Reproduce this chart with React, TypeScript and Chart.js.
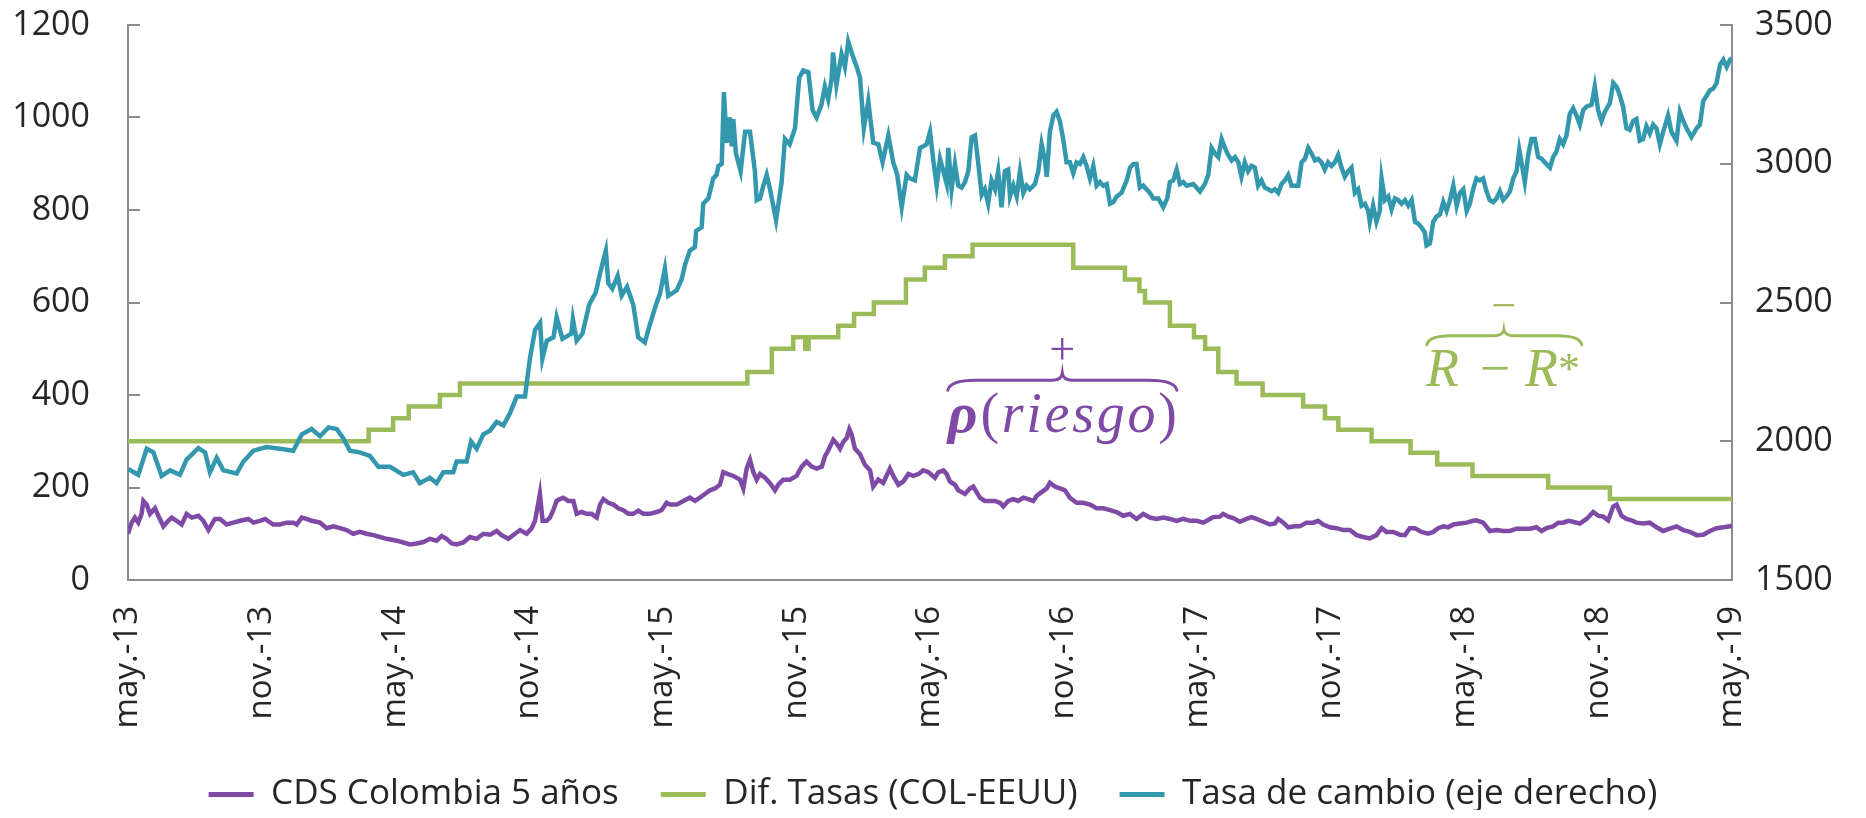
import React, { useEffect, useRef } from 'react';
import { Chart, registerables } from 'chart.js';

Chart.register(...registerables);

// Etiquetas del eje X (cada 6 meses desde may.-13)
const etiquetasX = ['may.-13', 'nov.-13', 'may.-14', 'nov.-14', 'may.-15', 'nov.-15', 'may.-16', 'nov.-16', 'may.-17', 'nov.-17', 'may.-18', 'nov.-18', 'may.-19'];

// Series: [meses desde may.-13, valor]
const cdsSerie: [number, number][] = [
  [0, 100], [0.16, 124], [0.31, 135], [0.46, 124], [0.61, 143], [0.69, 171], [0.84, 163], [0.99, 143], [1.21, 155], [1.36, 139],
  [1.59, 116], [1.81, 128], [1.96, 135], [2.18, 128], [2.41, 120], [2.63, 143], [2.86, 135], [3.16, 139], [3.38, 128], [3.61, 108],
  [3.9, 132], [4.13, 132], [4.43, 120], [4.73, 124], [5.03, 128], [5.4, 132], [5.63, 124], [5.92, 128], [6.15, 132], [6.52, 120],
  [6.82, 120], [7.12, 124], [7.42, 124], [7.57, 120], [7.8, 135], [8.02, 132], [8.24, 128], [8.62, 124], [8.92, 112], [9.22, 116],
  [9.52, 112], [9.81, 108], [10.11, 100], [10.41, 104], [10.71, 100], [11.01, 97], [11.31, 93], [11.61, 89], [12.06, 85], [12.36, 81],
  [12.66, 77], [12.96, 79], [13.26, 82], [13.55, 89], [13.85, 85], [14.08, 95], [14.3, 89], [14.53, 79], [14.75, 77], [15.05, 81],
  [15.35, 93], [15.65, 89], [15.95, 100], [16.25, 98], [16.55, 106], [16.77, 97], [17.07, 89], [17.37, 100], [17.6, 108], [17.89, 100],
  [18.12, 112], [18.27, 128], [18.42, 167], [18.49, 186], [18.61, 128], [18.79, 128], [18.94, 135], [19.09, 151], [19.24, 171], [19.39, 175],
  [19.54, 178], [19.76, 171], [19.99, 171], [20.14, 143], [20.36, 147], [20.59, 143], [20.81, 143], [21.04, 135], [21.19, 163], [21.34, 175],
  [21.56, 167], [21.79, 163], [22.01, 155], [22.23, 151], [22.46, 143], [22.68, 143], [22.91, 150], [23.13, 143], [23.43, 143], [23.73, 147],
  [23.95, 151], [24.18, 167], [24.33, 163], [24.63, 163], [24.93, 171], [25.22, 178], [25.45, 171], [25.67, 178], [25.9, 186], [26.12, 194],
  [26.35, 198], [26.57, 206], [26.72, 233], [26.94, 229], [27.17, 225], [27.47, 217], [27.62, 198], [27.77, 241], [27.92, 260], [28.07, 233],
  [28.22, 217], [28.37, 229], [28.59, 221], [28.81, 210], [29.04, 194], [29.19, 206], [29.41, 217], [29.71, 217], [30.01, 225], [30.24, 245],
  [30.46, 256], [30.69, 245], [30.91, 241], [31.14, 245], [31.29, 268], [31.43, 280], [31.66, 303], [31.81, 295], [31.96, 284], [32.11, 299],
  [32.26, 307], [32.38, 326], [32.48, 315], [32.63, 284], [32.86, 272], [33.08, 249], [33.31, 237], [33.45, 202], [33.68, 217], [33.9, 210],
  [34.2, 241], [34.35, 225], [34.58, 206], [34.8, 213], [35.03, 229], [35.25, 225], [35.48, 229], [35.7, 237], [35.93, 233], [36.22, 221],
  [36.37, 233], [36.6, 237], [36.75, 229], [36.89, 213], [37.12, 206], [37.27, 194], [37.42, 190], [37.57, 186], [37.79, 198], [37.94, 202],
  [38.09, 190], [38.24, 178], [38.46, 171], [38.69, 171], [38.91, 171], [39.14, 167], [39.29, 159], [39.51, 171], [39.74, 175], [39.96, 171],
  [40.19, 178], [40.41, 175], [40.64, 171], [40.79, 182], [41.01, 190], [41.24, 198], [41.38, 210], [41.61, 202], [41.83, 198], [42.06, 194],
  [42.28, 178], [42.58, 167], [42.88, 167], [43.18, 163], [43.48, 155], [43.78, 155], [44.08, 151], [44.38, 147], [44.67, 139], [44.97, 143],
  [45.27, 132], [45.57, 143], [45.87, 135], [46.17, 132], [46.47, 135], [46.77, 132], [47.07, 128], [47.37, 132], [47.67, 128], [47.97, 128],
  [48.27, 124], [48.56, 132], [48.71, 136], [49.01, 137], [49.16, 143], [49.39, 137], [49.61, 134], [49.91, 126], [50.21, 132], [50.43, 136],
  [50.66, 132], [50.96, 126], [51.26, 120], [51.48, 122], [51.63, 132], [51.86, 124], [52.08, 114], [52.38, 116], [52.6, 116], [52.9, 124],
  [53.2, 124], [53.42, 128], [53.65, 120], [53.95, 114], [54.25, 112], [54.55, 108], [54.85, 108], [55.15, 97], [55.45, 93], [55.74, 90],
  [56.04, 97], [56.27, 112], [56.49, 104], [56.79, 104], [57.09, 98], [57.32, 97], [57.54, 112], [57.77, 112], [58.06, 104], [58.36, 100],
  [58.59, 104], [58.81, 112], [59.04, 116], [59.26, 114], [59.49, 120], [59.79, 122], [60.09, 124], [60.38, 128], [60.53, 129], [60.83, 124],
  [61.13, 106], [61.43, 108], [61.73, 106], [62.03, 106], [62.33, 111], [62.63, 111], [62.93, 111], [63.22, 114], [63.45, 106], [63.67, 112],
  [63.97, 116], [64.2, 124], [64.42, 124], [64.65, 128], [64.87, 126], [65.17, 122], [65.47, 132], [65.77, 147], [66.0, 139], [66.22, 137],
  [66.44, 129], [66.67, 159], [66.82, 163], [67.04, 139], [67.26, 132], [67.49, 129], [67.71, 124], [68.01, 122], [68.31, 124], [68.61, 114],
  [68.91, 106], [69.21, 111], [69.51, 116], [69.81, 108], [70.11, 104], [70.41, 97], [70.71, 98], [71.01, 106], [71.31, 112], [71.61, 114],
  [71.91, 116], [72, 118],
];

// Diferencial de tasas: [mes del cambio, nuevo nivel]
const difSerie: [number, number][] = [
  [0, 300], [10.8, 325], [11.9, 350], [12.6, 375], [14.0, 400], [14.9, 425], [27.8, 450], [28.9, 500], [29.86, 525], [30.4, 500],
  [30.55, 525], [31.88, 550], [32.59, 575], [33.48, 600], [34.92, 650], [35.77, 675], [36.67, 700], [37.91, 725], [42.43, 675], [44.75, 650],
  [45.4, 625], [45.65, 600], [46.77, 550], [47.85, 525], [48.35, 500], [48.94, 450], [49.76, 425], [50.93, 400], [52.75, 375], [53.73, 350],
  [54.33, 325], [55.82, 300], [57.57, 275], [58.77, 250], [60.35, 225], [63.75, 200], [66.52, 175], [72, 175],
];

const tasaSerie: [number, number][] = [
  [0, 1900], [0.46, 1879], [0.84, 1973], [1.14, 1960], [1.51, 1875], [1.89, 1895], [2.33, 1879], [2.63, 1934], [3.16, 1975], [3.46, 1960],
  [3.68, 1888], [3.98, 1940], [4.28, 1895], [4.88, 1884], [5.18, 1927], [5.63, 1966], [6.22, 1979], [6.82, 1973], [7.42, 1966], [7.8, 2025],
  [8.24, 2044], [8.62, 2018], [9.0, 2050], [9.37, 2044], [9.66, 2011], [9.96, 1966], [10.4, 1960], [10.86, 1947], [11.24, 1908], [11.76, 1908],
  [12.36, 1879], [12.8, 1888], [13.1, 1849], [13.55, 1869], [13.85, 1849], [14.15, 1888], [14.6, 1888], [14.75, 1927], [15.2, 1927], [15.4, 1999],
  [15.65, 1973], [15.95, 2025], [16.25, 2038], [16.55, 2070], [16.85, 2057], [17.15, 2102], [17.45, 2161], [17.82, 2161], [18.04, 2297], [18.27, 2401],
  [18.5, 2427], [18.6, 2297], [18.8, 2362], [19.1, 2375], [19.24, 2447], [19.5, 2369], [19.9, 2388], [19.97, 2440], [20.14, 2362], [20.4, 2388],
  [20.7, 2492], [21.0, 2537], [21.2, 2609], [21.45, 2687], [21.56, 2570], [21.74, 2550], [21.98, 2596], [22.16, 2525], [22.4, 2557], [22.68, 2492],
  [22.9, 2375], [23.2, 2356], [23.4, 2414], [23.7, 2492], [23.88, 2531], [24.1, 2622], [24.25, 2524], [24.63, 2544], [24.85, 2583], [25.0, 2635],
  [25.22, 2687], [25.45, 2700], [25.5, 2758], [25.75, 2771], [25.82, 2856], [26.05, 2875], [26.27, 2947], [26.42, 2960], [26.5, 2992], [26.65, 2999],
  [26.75, 3258], [26.87, 3076], [27.02, 3167], [27.1, 3063], [27.17, 3161], [27.29, 3037], [27.5, 2973], [27.7, 3115], [27.92, 3115], [28.14, 2973],
  [28.22, 2869], [28.37, 2875], [28.52, 2921], [28.67, 2960], [28.82, 2908], [29.09, 2797], [29.34, 2934], [29.49, 3089], [29.7, 3070], [29.94, 3128],
  [30.13, 3310], [30.31, 3336], [30.54, 3330], [30.73, 3193], [30.91, 3167], [31.13, 3213], [31.28, 3278], [31.43, 3232], [31.58, 3304], [31.65, 3401],
  [31.8, 3284], [32.03, 3395], [32.18, 3349], [32.33, 3440], [32.48, 3401], [32.71, 3349], [32.86, 3310], [33.03, 3128], [33.23, 3226], [33.45, 3076],
  [33.68, 3070], [33.87, 3005], [34.13, 3102], [34.35, 3005], [34.53, 2960], [34.73, 2843], [34.95, 2960], [35.1, 2947], [35.32, 2940], [35.55, 3057],
  [35.7, 3063], [35.85, 3070], [36.0, 3115], [36.15, 3012], [36.3, 2921], [36.45, 3018], [36.6, 2973], [36.75, 2927], [36.82, 3057], [36.97, 2908],
  [37.12, 2999], [37.27, 2921], [37.42, 2914], [37.57, 2934], [37.72, 2973], [37.87, 3096], [38.02, 3102], [38.17, 2999], [38.32, 2888], [38.46, 2908],
  [38.61, 2856], [38.76, 2940], [38.92, 2908], [39.06, 2973], [39.21, 2843], [39.36, 2973], [39.51, 2979], [39.59, 2882], [39.74, 2921], [39.89, 2882],
  [40.04, 2973], [40.19, 2895], [40.33, 2921], [40.48, 2908], [40.71, 2927], [40.86, 2973], [41.01, 3070], [41.16, 3012], [41.24, 2953], [41.38, 3115],
  [41.54, 3174], [41.68, 3187], [41.83, 3154], [41.98, 3089], [42.13, 3005], [42.28, 3005], [42.43, 2966], [42.58, 3005], [42.73, 2999], [42.88, 3024],
  [43.03, 2992], [43.18, 2947], [43.33, 2992], [43.48, 2921], [43.63, 2934], [43.78, 2921], [43.93, 2927], [44.08, 2856], [44.23, 2862], [44.38, 2882],
  [44.6, 2895], [44.83, 2940], [44.98, 2986], [45.13, 2999], [45.27, 2999], [45.42, 2914], [45.57, 2921], [45.87, 2895], [46.02, 2875], [46.25, 2875],
  [46.47, 2843], [46.65, 2875], [46.77, 2934], [46.92, 2940], [47.07, 2979], [47.22, 2927], [47.37, 2934], [47.52, 2921], [47.82, 2927], [48.12, 2900],
  [48.34, 2927], [48.49, 2960], [48.64, 3057], [48.79, 3037], [48.94, 3024], [49.09, 3089], [49.24, 3057], [49.39, 3031], [49.54, 3012], [49.69, 3024],
  [49.84, 3005], [49.98, 2953], [50.13, 3005], [50.28, 2973], [50.43, 2992], [50.58, 2986], [50.73, 2921], [50.88, 2940], [51.03, 2914], [51.18, 2908],
  [51.33, 2901], [51.48, 2908], [51.63, 2895], [51.78, 2927], [51.93, 2940], [52.08, 2960], [52.23, 2921], [52.53, 2921], [52.68, 3005], [52.83, 3018],
  [52.98, 3057], [53.13, 3037], [53.28, 3012], [53.42, 3018], [53.57, 3005], [53.72, 2979], [53.87, 3005], [54.02, 2992], [54.17, 3005], [54.32, 3031],
  [54.47, 2986], [54.62, 2953], [54.77, 2973], [54.92, 2986], [55.07, 2895], [55.22, 2908], [55.37, 2849], [55.52, 2856], [55.67, 2830], [55.74, 2791],
  [55.89, 2849], [56.04, 2791], [56.19, 2830], [56.27, 2947], [56.42, 2869], [56.57, 2882], [56.72, 2836], [56.87, 2875], [57.02, 2869], [57.17, 2856],
  [57.32, 2869], [57.47, 2849], [57.62, 2869], [57.77, 2791], [57.92, 2784], [58.06, 2771], [58.21, 2752], [58.29, 2706], [58.44, 2713], [58.59, 2791],
  [58.74, 2810], [58.89, 2817], [59.04, 2862], [59.19, 2830], [59.34, 2869], [59.49, 2921], [59.64, 2849], [59.79, 2895], [59.94, 2908], [60.09, 2830],
  [60.23, 2856], [60.38, 2908], [60.53, 2947], [60.68, 2940], [60.83, 2947], [60.98, 2901], [61.13, 2869], [61.28, 2862], [61.43, 2875], [61.58, 2901],
  [61.73, 2869], [61.88, 2882], [62.03, 2901], [62.18, 2947], [62.33, 2973], [62.45, 3050], [62.55, 3005], [62.7, 2934], [62.85, 3031], [63.0, 3089],
  [63.15, 3089], [63.3, 3024], [63.45, 3018], [63.6, 3005], [63.83, 2986], [63.97, 3024], [64.12, 3044], [64.27, 3089], [64.42, 3070], [64.57, 3102],
  [64.72, 3180], [64.87, 3200], [65.02, 3174], [65.17, 3141], [65.32, 3193], [65.47, 3206], [65.7, 3213], [65.84, 3278], [65.99, 3193], [66.14, 3154],
  [66.29, 3187], [66.52, 3219], [66.67, 3291], [66.82, 3278], [66.97, 3245], [67.11, 3206], [67.26, 3128], [67.41, 3122], [67.56, 3154], [67.71, 3161],
  [67.86, 3083], [68.01, 3089], [68.16, 3135], [68.31, 3109], [68.46, 3141], [68.61, 3128], [68.76, 3070], [68.91, 3115], [69.13, 3174], [69.28, 3115],
  [69.51, 3083], [69.66, 3187], [69.81, 3154], [69.96, 3128], [70.18, 3096], [70.41, 3128], [70.56, 3141], [70.71, 3226], [70.86, 3245], [71.01, 3265],
  [71.16, 3271], [71.31, 3291], [71.46, 3356], [71.61, 3375], [71.76, 3349], [71.91, 3375], [72, 3380],
];

// Anotaciones (coordenadas de datos: meses / eje izquierdo)
const riesgoLlave = { desde: 36.8, hasta: 47.08, nivel: 432, signo: 494, texto: 320 };
const tasasLlave = { desde: 58.3, hasta: 65.26, centro: 61.76, nivel: 528, signo: 588, texto: 419 };

const MORADO = '#7F4AA6';
const VERDE = '#9BBB59';
const AZUL = '#3398AE';
const EJE = '#8C8C8C';
const TEXTO = '#262626';
const FUENTE = '"Open Sans", "Noto Sans", sans-serif';
const SERIF = '"Liberation Serif", serif';

function drawBrace(ctx: CanvasRenderingContext2D, x0: number, x1: number, xm: number, y: number, down: number, up: number, curl: number, color: string) {
  ctx.save();
  ctx.strokeStyle = color;
  ctx.lineWidth = 3;
  ctx.lineCap = 'round';
  ctx.beginPath();
  ctx.moveTo(x0, y + down);
  ctx.quadraticCurveTo(x0 + 2, y, x0 + curl, y);
  ctx.lineTo(xm - 10, y);
  ctx.quadraticCurveTo(xm - 1, y, xm, y - up);
  ctx.quadraticCurveTo(xm + 1, y, xm + 10, y);
  ctx.lineTo(x1 - curl, y);
  ctx.quadraticCurveTo(x1 - 2, y, x1, y + down);
  ctx.stroke();
  ctx.restore();
}

type Pieza = { t: string; font: string };

function drawSpread(ctx: CanvasRenderingContext2D, piezas: Pieza[], x0: number, x1: number, baseline: number) {
  const widths = piezas.map((p) => { ctx.font = p.font; return ctx.measureText(p.t).width; });
  const total = widths.reduce((a, b) => a + b, 0);
  const extra = piezas.length > 1 ? (x1 - x0 - total) / (piezas.length - 1) : 0;
  let x = x0;
  ctx.textAlign = 'left';
  ctx.textBaseline = 'alphabetic';
  piezas.forEach((p, i) => {
    ctx.font = p.font;
    ctx.fillText(p.t, x, baseline);
    x += widths[i] + extra;
  });
}

const marcasEje = {
  id: 'marcasEje',
  beforeDatasetsDraw(chart: any) {
    const { ctx } = chart;
    const yl = chart.scales.y;
    const yr = chart.scales.y1;
    ctx.save();
    ctx.strokeStyle = EJE;
    ctx.lineWidth = 2;
    ctx.beginPath();
    yl.ticks.forEach((t: any) => {
      const py = Math.round(yl.getPixelForValue(t.value));
      ctx.moveTo(yl.right, py);
      ctx.lineTo(yl.right + 12, py);
    });
    yr.ticks.forEach((t: any) => {
      const py = Math.round(yr.getPixelForValue(t.value));
      ctx.moveTo(yr.left - 12, py);
      ctx.lineTo(yr.left, py);
    });
    ctx.stroke();
    ctx.restore();
  },
};

const anotaciones = {
  id: 'anotaciones',
  afterDatasetsDraw(chart: any) {
    const { ctx } = chart;
    const xs = chart.scales.x;
    const ys = chart.scales.y;
    ctx.save();

    // rho(riesgo)
    const rx0 = xs.getPixelForValue(riesgoLlave.desde);
    const rx1 = xs.getPixelForValue(riesgoLlave.hasta);
    const rxm = (rx0 + rx1) / 2;
    drawBrace(ctx, rx0, rx1, rxm, ys.getPixelForValue(riesgoLlave.nivel), 10, 7, 28, MORADO);
    ctx.fillStyle = MORADO;
    ctx.font = `46px ${SERIF}`;
    ctx.textAlign = 'center';
    ctx.textBaseline = 'middle';
    ctx.fillText('+', rxm, ys.getPixelForValue(riesgoLlave.signo));
    const it = `italic 56px ${SERIF}`;
    const up = `56px ${SERIF}`;
    drawSpread(ctx, [
      { t: 'ρ', font: `italic bold 58px ${SERIF}` },
      { t: '(', font: up },
      { t: 'r', font: it },
      { t: 'i', font: it },
      { t: 'e', font: it },
      { t: 's', font: it },
      { t: 'g', font: it },
      { t: 'o', font: it },
      { t: ')', font: up },
    ], rx0, rx1, ys.getPixelForValue(riesgoLlave.texto));

    // R - R*
    const gx0 = xs.getPixelForValue(tasasLlave.desde);
    const gx1 = xs.getPixelForValue(tasasLlave.hasta);
    const gxm = xs.getPixelForValue(tasasLlave.centro);
    drawBrace(ctx, gx0, gx1, gxm, ys.getPixelForValue(tasasLlave.nivel), 9, 6, 24, VERDE);
    ctx.fillStyle = VERDE;
    ctx.font = `44px ${SERIF}`;
    ctx.textAlign = 'center';
    ctx.textBaseline = 'middle';
    ctx.fillText('−', gxm, ys.getPixelForValue(tasasLlave.signo));
    const gb = ys.getPixelForValue(tasasLlave.texto);
    ctx.textBaseline = 'alphabetic';
    ctx.textAlign = 'left';
    ctx.font = `italic 54px ${SERIF}`;
    ctx.fillText('R', gxm - 78, gb);
    ctx.font = `54px ${SERIF}`;
    ctx.textAlign = 'center';
    ctx.fillText('−', gxm - 9, gb);
    ctx.textAlign = 'left';
    ctx.font = `italic 54px ${SERIF}`;
    ctx.fillText('R', gxm + 21, gb);
    ctx.font = `44px ${SERIF}`;
    ctx.fillText('*', gxm + 54, gb - 3);

    ctx.restore();
  },
};

export default function App() {
  const ref = useRef<HTMLCanvasElement | null>(null);

  useEffect(() => {
    let chart: Chart | null = null;
    let cancelled = false;
    const build = () => {
      if (cancelled || !ref.current) return;
      const tickFont = { family: FUENTE, size: 34 };
      const sinPadding = (s: any) => { s.paddingTop = 0; s.paddingBottom = 0; s.paddingLeft = 0; s.paddingRight = 0; };
      chart = new Chart(ref.current, {
        type: 'line',
        data: {
          datasets: [
            {
              label: 'CDS Colombia 5 años',
              data: cdsSerie.map(([x, y]) => ({ x, y })),
              borderColor: MORADO,
              backgroundColor: MORADO,
              borderWidth: 4.5,
              pointRadius: 0,
              tension: 0,
              yAxisID: 'y',
              order: 2,
            },
            {
              label: 'Dif. Tasas (COL-EEUU)',
              data: difSerie.map(([x, y]) => ({ x, y })),
              borderColor: VERDE,
              backgroundColor: VERDE,
              borderWidth: 4.5,
              pointRadius: 0,
              stepped: 'before',
              yAxisID: 'y',
              order: 1,
            },
            {
              label: 'Tasa de cambio (eje derecho)',
              data: tasaSerie.map(([x, y]) => ({ x, y })),
              borderColor: AZUL,
              backgroundColor: AZUL,
              borderWidth: 4.5,
              pointRadius: 0,
              tension: 0,
              yAxisID: 'y1',
              order: 0,
            },
          ],
        },
        options: {
          animation: false,
          responsive: true,
          maintainAspectRatio: false,
          layout: { padding: { top: 17, left: 0, right: 0, bottom: 0 }, autoPadding: false },
          plugins: {
            tooltip: { enabled: false },
            legend: {
              position: 'bottom',
              labels: {
                font: { family: FUENTE, size: 35 },
                color: TEXTO,
                boxWidth: 45,
                boxHeight: 5,
                padding: 42,
                sort: (a: any, b: any) => a.datasetIndex - b.datasetIndex,
                generateLabels: (c: any) =>
                  (Chart.defaults.plugins.legend.labels.generateLabels as any)(c).map((l: any) => ({ ...l, lineWidth: 0 })),
              },
            },
          },
          scales: {
            x: {
              type: 'linear',
              min: 0,
              max: 72,
              grid: { display: false, drawTicks: false },
              border: { display: true, color: EJE, width: 2 },
              ticks: {
                stepSize: 6,
                autoSkip: false,
                maxRotation: 90,
                minRotation: 90,
                padding: 26,
                color: TEXTO,
                font: { family: FUENTE, size: 33 },
                callback: (v: any) => etiquetasX[Math.round(Number(v) / 6)] ?? '',
              },
              afterFit: (s: any) => { s.height = 155; sinPadding(s); },
            },
            y: {
              position: 'left',
              min: 0,
              max: 1200,
              grid: { display: false, drawTicks: false },
              border: { display: true, color: EJE, width: 2 },
              ticks: { stepSize: 200, padding: 38, color: TEXTO, font: tickFont, callback: (v: any) => String(v) },
              afterFit: (s: any) => { s.width = 120; sinPadding(s); },
            },
            y1: {
              position: 'right',
              min: 1500,
              max: 3500,
              grid: { display: false, drawTicks: false },
              border: { display: true, color: EJE, width: 2 },
              ticks: { stepSize: 500, padding: 23, color: TEXTO, font: tickFont, callback: (v: any) => String(v) },
              afterFit: (s: any) => { s.width = 126; sinPadding(s); },
            },
          },
        } as any,
        plugins: [marcasEje, anotaciones],
      });
    };
    const fonts = (document as any).fonts;
    if (fonts && fonts.load) {
      Promise.all([
        fonts.load('33px "Open Sans"'),
        fonts.load('italic 46px "Liberation Serif"'),
        fonts.load('46px "Liberation Serif"'),
        fonts.load('italic bold 48px "Liberation Serif"'),
      ]).then(build, build);
    } else {
      build();
    }
    return () => {
      cancelled = true;
      if (chart) chart.destroy();
    };
  }, []);

  return (
    <div style={{ width: '100%', height: 802, overflow: 'hidden' }}>
      <div style={{ position: 'relative', width: '100%', height: 814 }}>
        <canvas ref={ref} />
      </div>
    </div>
  );
}
